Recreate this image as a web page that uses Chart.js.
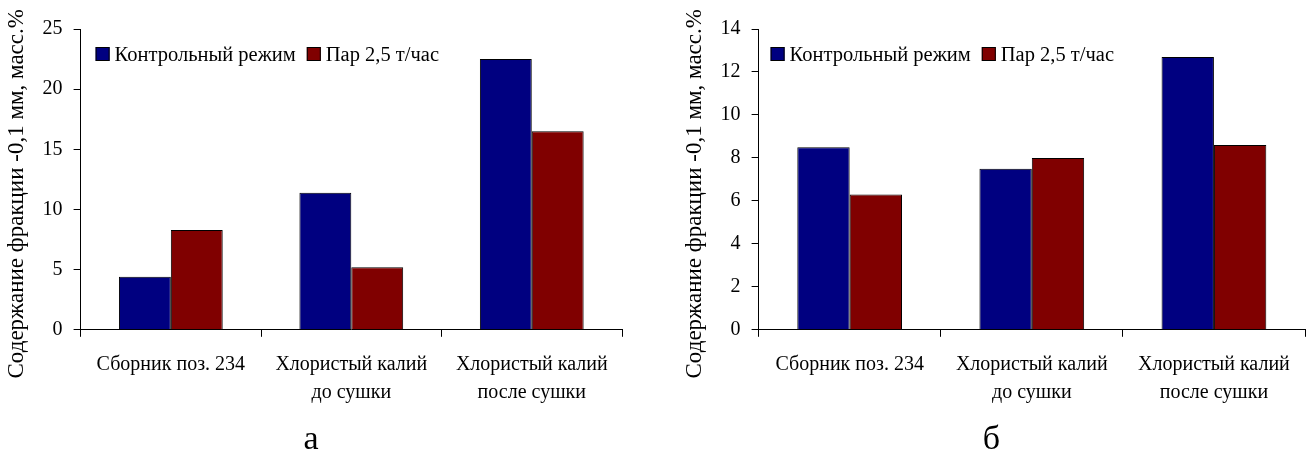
<!DOCTYPE html>
<html>
<head>
<meta charset="utf-8">
<script src="https://cdn.jsdelivr.net/npm/chart.js@4"></script>
<style>
  body { margin: 0; background: #fff; }
  #wrap { position: relative; width: 1313px; height: 457px; }
  .box { position: absolute; top: 0; height: 457px; }
</style>
</head>
<body>
<div id="wrap">
  <div class="box" style="left:0;width:640px"><canvas id="chartA"></canvas></div>
  <div class="box" style="left:678px;width:635px"><canvas id="chartB"></canvas></div>
</div>
<script>
// categories and series
const categories = ['Сборник поз. 234', ['Хлористый калий', 'до сушки'], ['Хлористый калий', 'после сушки']];
const seriesNames = ['Контрольный режим', 'Пар 2,5 т/час'];
// trailing no-break spaces push the centred title a bit lower, as in the original
const yTitle = 'Содержание фракции -0,1 мм, масс.%' + '\u00a0'.repeat(5);

// chart а
const controlA = [4.4, 11.4, 22.5];
const steamA = [8.3, 5.2, 16.5];
// chart б
const controlB = [8.5, 7.5, 12.7];
const steamB = [6.3, 8.0, 8.6];

const FONT = 'Liberation Serif';

// legend drawn inside the plot area, like the original
const insideLegend = {
    id: 'insideLegend',
    afterDraw(chart, args, opts) {
        const ctx = chart.ctx;
        const area = chart.chartArea;
        let x = area.left + opts.offsetX;
        const top = area.top + 18;
        ctx.save();
        ctx.font = '20.5px "' + FONT + '"';
        ctx.textBaseline = 'alphabetic';
        ctx.textAlign = 'left';
        chart.data.datasets.forEach(ds => {
            ctx.fillStyle = ds.backgroundColor;
            ctx.fillRect(x, top, 14, 14);
            ctx.strokeStyle = '#000';
            ctx.lineWidth = 1;
            ctx.strokeRect(x + 0.5, top + 0.5, 13, 13);
            ctx.fillStyle = '#000';
            ctx.fillText(ds.label, x + 19, top + 14);
            x += 19 + ctx.measureText(ds.label).width + 11;
        });
        ctx.restore();
    }
};

function makeChart(id, control, steam, yMax, yStep, caption, padRight, legendX) {
    new Chart(document.getElementById(id), {
        type: 'bar',
        data: {
            labels: categories,
            datasets: [{
                label: seriesNames[0],
                data: control,
                backgroundColor: '#000080',
                borderColor: '#000',
                borderWidth: 1
            }, {
                label: seriesNames[1],
                data: steam,
                backgroundColor: '#800000',
                borderColor: '#000',
                borderWidth: 1
            }]
        },
        options: {
            responsive: true,
            maintainAspectRatio: false,
            animation: false,
            devicePixelRatio: 1,
            layout: { padding: { top: 29, left: 0, right: padRight, bottom: 0 } },
            datasets: { bar: { categoryPercentage: 0.575, barPercentage: 1 } },
            scales: {
                x: {
                    grid: { drawOnChartArea: false, drawTicks: true, tickLength: 7, color: '#000', offset: true },
                    border: { color: '#000', width: 1 },
                    ticks: {
                        color: '#000', padding: 14, maxRotation: 0, autoSkip: false,
                        font: { family: FONT, size: 20, lineHeight: 1.4 }
                    }
                },
                y: {
                    min: 0,
                    max: yMax,
                    grid: { drawOnChartArea: false, drawTicks: true, tickLength: 7, color: '#000' },
                    border: { color: '#000', width: 1 },
                    ticks: { stepSize: yStep, color: '#000', padding: 11, font: { family: FONT, size: 20 } },
                    title: {
                        display: true,
                        text: yTitle,
                        color: '#000',
                        padding: { top: 3, bottom: 1 },
                        font: { family: FONT, size: 23 }
                    }
                }
            },
            plugins: {
                legend: { display: false },
                tooltip: { enabled: false },
                insideLegend: { offsetX: legendX },
                title: {
                    display: true,
                    position: 'bottom',
                    text: caption,
                    color: '#000',
                    padding: { top: 6, bottom: 3 },
                    font: { family: FONT, size: 34, weight: 'normal', lineHeight: 0.8 }
                }
            }
        },
        plugins: [insideLegend]
    });
}

makeChart('chartA', controlA, steamA, 25, 5, 'а', 18, 15);
makeChart('chartB', controlB, steamB, 14, 2, 'б', 8, 12);
</script>
</body>
</html>
